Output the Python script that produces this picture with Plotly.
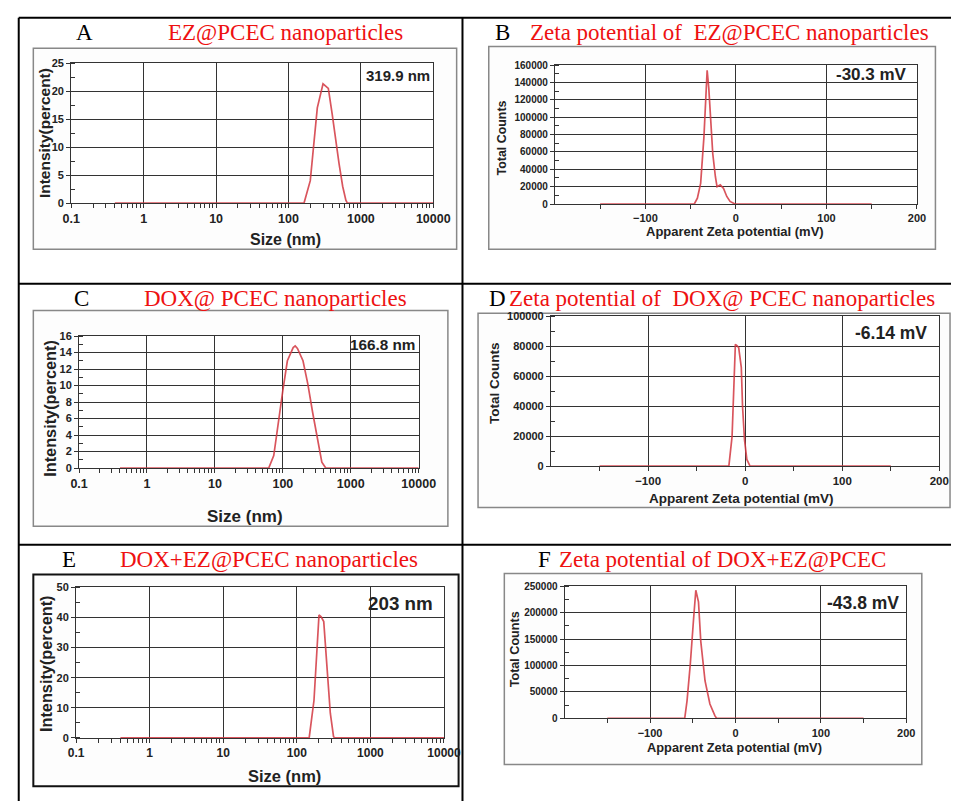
import plotly.graph_objects as go

W, H = 968, 807

# ---------------- data ----------------
size_A = [0.4, 164, 200, 225, 250, 300, 355, 400, 450, 500, 560, 620, 650, 10000]
int_A = [0, 0, 4.0, 11.0, 17.0, 21.3, 20.5, 16.0, 11.0, 7.0, 3.0, 0.5, 0, 0]

zeta_B = [-150, -46, -42.6, -39, -35.4, -33.6, -31.8, -30, -28.2, -25.6, -22.7, -20.9, -17.3, -13.7, -10.1, -6.5, -1, 150]
cnt_B = [0, 0, 6800, 23800, 76800, 114600, 154000, 133500, 99500, 57900, 31400, 20000, 22000, 18000, 8700, 3000, 0, 0]

size_C = [0.4, 62, 73.5, 86.7, 100, 116.6, 142, 152, 164, 198, 233, 275, 325, 375, 428, 10000]
int_C = [0, 0, 1.5, 5.9, 9.4, 13.0, 14.6, 14.8, 14.5, 13.0, 10.2, 6.7, 3.5, 0.7, 0, 0]

zeta_D = [-150, -16.8, -13.5, -11.8, -10.1, -8.5, -6.7, -4.0, -2.7, -0.7, 1.7, 5, 150]
cnt_D = [0, 0, 19800, 46200, 81300, 80500, 79100, 65900, 39600, 17600, 4400, 0, 0]

size_E = [0.4, 147, 171, 190, 200, 214, 232, 257, 285, 315, 325, 10000]
int_E = [0, 0, 12.5, 32, 40.8, 40.2, 38.6, 23.4, 8.2, 0.5, 0, 0]

zeta_F = [-150, -59.4, -56.7, -52.9, -49, -46.4, -43.3, -40.6, -35.6, -29.9, -24.1, -22.2, 150]
cnt_F = [0, 0, 33000, 102000, 189000, 242500, 220600, 145600, 70600, 26900, 5000, 0, 0]

log_ticks = [0.1, 1, 10, 100, 1000, 10000]
log_ticktext = ["0.1", "1", "10", "100", "1000", "10000"]
zeta_ticks = [-100, 0, 100, 200]
zeta_minor = [-150, -50, 50, 150]

labels = ["A", "B", "C", "D", "E", "F"]
titles = ["EZ@PCEC nanoparticles",
          "Zeta potential of  EZ@PCEC nanoparticles",
          "DOX@ PCEC nanoparticles",
          "Zeta potential of  DOX@ PCEC nanoparticles",
          "DOX+EZ@PCEC nanoparticles",
          "Zeta potential of DOX+EZ@PCEC"]
values_text = ["319.9 nm", "-30.3 mV", "166.8 nm", "-6.14 mV", "203 nm", "-43.8 mV"]

# ---------------- layout geometry (pixels) ----------------
px = lambda x: x / W
py = lambda y: 1 - y / H

areas = [(64, 436, 58, 200), (561, 933, 60, 201),
         (72, 421, 335, 469), (557, 956, 315, 467),
         (69, 447, 590, 743), (571, 922, 589, 723)]
frames = [(25, 460, 43, 247), (493, 952, 41, 247),
          (25, 451, 309, 528), (482, 967, 312, 509),
          (25, 462, 577, 792), (509, 938, 576, 770)]

LINE = dict(color="rgba(210,55,65,0.85)", width=1.7)
FONT = "Liberation Sans"
TXT = "#222"

fig = go.Figure()
series = [(size_A, int_A), (zeta_B, cnt_B), (size_C, int_C),
          (zeta_D, cnt_D), (size_E, int_E), (zeta_F, cnt_F)]
for i, (xs, ys) in enumerate(series):
    n = "" if i == 0 else str(i + 1)
    fig.add_trace(go.Scatter(x=xs, y=ys, mode="lines", line=LINE,
                             xaxis="x" + n, yaxis="y" + n, showlegend=False,
                             hoverinfo="skip"))

log_minor = [k * 10 ** e for e in range(-1, 4) for k in range(2, 10)]

yspecs = [(25, 5, 2.5), (160000, 20000, 10000), (16, 2, 1),
          (100000, 20000, 10000), (50, 10, 5), (250000, 50000, 25000)]
xtick_sizes = [12.5, 11, 12.5, 11.5, 12, 11]
ytick_sizes = [11, 10, 11, 11, 11, 10]

layout = {}
for i in range(6):
    n = "" if i == 0 else str(i + 1)
    x0, x1, yt, yb = areas[i]
    ymax, dt, mdt = yspecs[i]
    common = dict(showline=True, linecolor="#333", linewidth=1.2, mirror=True,
                  showgrid=True, gridcolor="#333", gridwidth=1, zeroline=False,
                  ticks="outside", ticklen=4, tickcolor="#333", fixedrange=True)
    xtf = dict(family=FONT, size=xtick_sizes[i], color=TXT, weight="bold")
    ytf = dict(family=FONT, size=ytick_sizes[i], color=TXT, weight="bold")
    if i % 2 == 0:
        xa = dict(common, type="log", range=[-1, 4], domain=[px(x0), px(x1)],
                  anchor="y" + n, tickvals=log_ticks, ticktext=log_ticktext,
                  tickfont=xtf,
                  minor=dict(tickvals=log_minor, ticks="outside", ticklen=4,
                             tickcolor="#333", showgrid=False))
    else:
        xa = dict(common, range=[-200, 200], domain=[px(x0), px(x1)],
                  anchor="y" + n, tickvals=zeta_ticks, tickfont=xtf,
                  minor=dict(tickvals=zeta_minor, ticks="outside", ticklen=4,
                             tickcolor="#333", showgrid=False))
    ya = dict(common, range=[0, ymax], domain=[py(yb), py(yt)],
              anchor="x" + n, dtick=dt, tick0=0, tickformat="d", tickfont=ytf,
              minor=dict(dtick=mdt, tick0=0, ticks="inside", ticklen=4,
                         tickcolor="#333", showgrid=False))
    layout["xaxis" + n] = xa
    layout["yaxis" + n] = ya

shapes = []
tl = dict(type="line", xref="paper", yref="paper", line=dict(color="black", width=2))
shapes.append(dict(tl, x0=px(10), x1=1, y0=py(12), y1=py(12)))
shapes.append(dict(tl, x0=px(10), x1=1, y0=py(282), y1=py(282)))
shapes.append(dict(tl, x0=px(10), x1=1, y0=py(547), y1=py(547)))
shapes.append(dict(tl, x0=px(10), x1=px(10), y0=py(12), y1=0))
shapes.append(dict(tl, x0=px(466), x1=px(466), y0=py(12), y1=0))
for i, (fx0, fx1, fyt, fyb) in enumerate(frames):
    col = "#111" if i == 4 else "#888"
    wid = 2 if i == 4 else 1.5
    shapes.append(dict(type="rect", xref="paper", yref="paper", layer="below",
                       x0=px(fx0), x1=px(fx1), y0=py(fyb), y1=py(fyt),
                       line=dict(color=col, width=wid), fillcolor="#fdfdfd"))
for (x0, x1, yt, yb) in areas:
    shapes.append(dict(type="rect", xref="paper", yref="paper", layer="below",
                       x0=px(x0), x1=px(x1), y0=py(yb), y1=py(yt),
                       line=dict(width=0), fillcolor="white"))

ann = []
def text(x, y, s, size, color=TXT, fam=FONT, bold=True, xa="center", angle=0):
    f = dict(family=fam, size=size, color=color)
    if bold:
        f["weight"] = "bold"
    ann.append(dict(x=px(x), y=py(y), xref="paper", yref="paper", text=s,
                    showarrow=False, font=f, xanchor=xa, yanchor="middle",
                    textangle=angle))

SERIF = "Liberation Serif"
letter_pos = [(78, 27), (507, 27), (74, 297), (502, 297), (62, 562), (550, 562)]
title_pos = [(161, 27), (533, 27), (137, 297), (512, 297), (112, 562), (563, 562)]
for i in range(6):
    text(letter_pos[i][0], letter_pos[i][1], labels[i], 23, "black", SERIF, False)
    text(title_pos[i][0], title_pos[i][1], titles[i], 23, "#ee1111", SERIF, False, xa="left")

val_pos = [(435, 71, 15), (925, 70, 17), (419, 344, 15.3),
           (945, 332, 17.5), (438, 607, 18.8), (917, 606, 17.5)]
for i in range(6):
    x, y, s = val_pos[i]
    text(x, y, values_text[i], s, xa="right")

ytitles = [("Intensity(percent)", 36, 129, 15.5), ("Total Counts", 507, 134, 12.4),
           ("Intensity(percent)", 42, 408, 16.3), ("Total Counts", 499, 383, 13.5),
           ("Intensity(percent)", 38, 667, 16.3), ("Total Counts", 520, 653, 12.6)]
xtitles = [("Size (nm)", 284, 237, 16), ("Apparent Zeta potential (mV)", 746, 229, 13),
           ("Size (nm)", 243, 518, 17), ("Apparent Zeta potential (mV)", 753, 500, 13.5),
           ("Size (nm)", 283, 782, 16.5), ("Apparent Zeta potential (mV)", 746, 753, 12.8)]
for s, x, y, fs in ytitles:
    text(x, y, s, fs, angle=-90)
for s, x, y, fs in xtitles:
    text(x, y, s, fs)

fig.update_layout(autosize=True, margin=dict(l=0, r=0, t=0, b=0),
                  paper_bgcolor="white", plot_bgcolor="rgba(0,0,0,0)",
                  shapes=shapes, annotations=ann, showlegend=False,
                  hovermode=False, **layout)

fig.write_html("out.html",
               default_width="100vw", default_height="100vh",
               config={"displayModeBar": False, "responsive": True},
               post_script="document.body.style.margin='0';"
                           "document.body.style.overflow='hidden';")
